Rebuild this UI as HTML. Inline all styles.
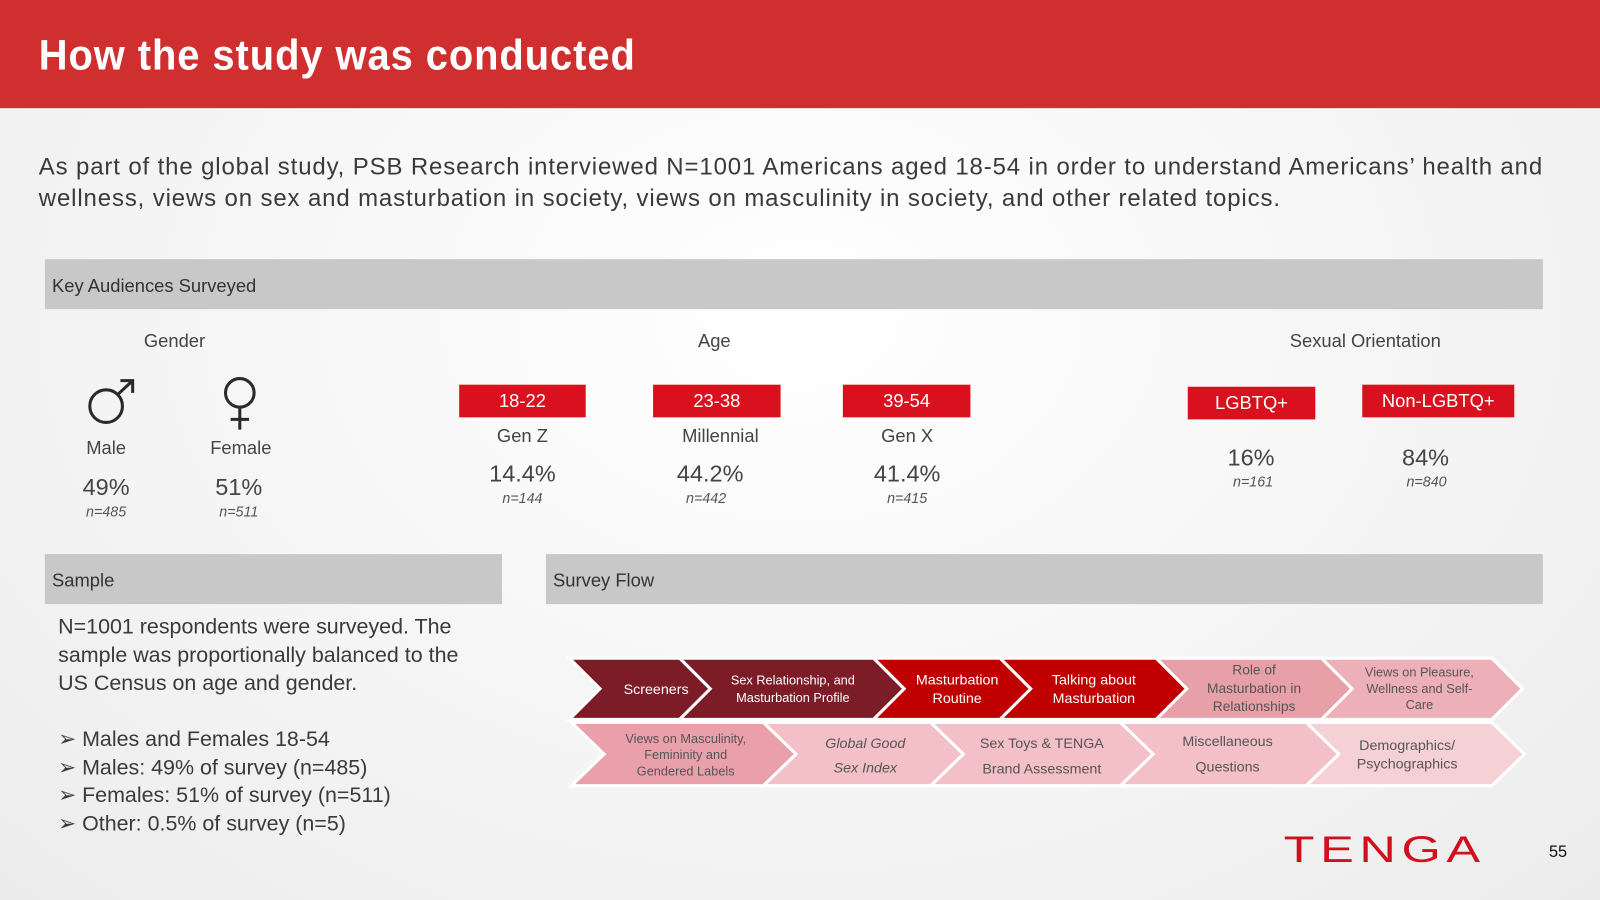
<!DOCTYPE html>
<html><head><meta charset="utf-8"><style>
*{margin:0;padding:0;box-sizing:border-box}
body{width:1600px;height:900px;overflow:hidden;background:#f0f0f0;font-family:"Liberation Sans",sans-serif}
#w{position:absolute;left:0;top:0;width:1568px;height:882px;transform:scale(1.020408);transform-origin:0 0;background:radial-gradient(ellipse at 50% 35%,#ffffff 0%,#f6f6f6 50%,#ececec 100%)}
.a{position:absolute;white-space:nowrap}
.hdr{left:0;top:0;width:1568px;height:106px;background:#cf302f}
.bar{background:#c8c8c8;height:49px;color:#333;font-size:18px;line-height:53px;padding-left:7px}
.c{text-align:center;transform:translateX(-50%)}
.lbl{font-size:18px;color:#444}
.pct{font-size:23px;color:#444}
.n{font-size:14px;color:#555;font-style:italic}
.tag{background:#d9101e;color:#fff;font-size:18px;text-align:center;line-height:32px;height:32px}
</style></head><body><div id="w">
<div class="a hdr"></div>
<div class="a" style="left:38px;top:30px;font-size:42px;color:#fff;letter-spacing:1px;font-weight:bold;transform:scaleX(0.93);transform-origin:0 0">How the study was conducted</div>
<div class="a" style="left:38px;top:148px;font-size:23.5px;color:#3a3a3a;line-height:31px;letter-spacing:0.85px">As part of the global study, PSB Research interviewed N=1001 Americans aged 18-54 in order to understand Americans’ health and<br>wellness, views on sex and masturbation in society, views on masculinity in society, and other related topics.</div>
<div class="a bar" style="left:44px;top:254px;width:1468px">Key Audiences Surveyed</div>
<div class="a lbl c" style="left:171px;top:324px">Gender</div>
<div class="a lbl c" style="left:700px;top:324px">Age</div>
<div class="a lbl c" style="left:1338px;top:324px">Sexual Orientation</div>
<svg class="a" style="left:82px;top:370px" width="52" height="48" viewBox="0 0 52 48"><circle cx="22" cy="28" r="16" fill="none" stroke="#2a2a2a" stroke-width="3"/><path d="M33 17 L48 3 M36 3 H48 V15" fill="none" stroke="#2a2a2a" stroke-width="3"/></svg>
<svg class="a" style="left:216px;top:368px" width="38" height="56" viewBox="0 0 38 56"><circle cx="19" cy="17" r="14" fill="none" stroke="#2a2a2a" stroke-width="3"/><path d="M19 31 V53 M10 43 H28" fill="none" stroke="#2a2a2a" stroke-width="3"/></svg>
<div class="a lbl c" style="left:104px;top:429px">Male</div>
<div class="a lbl c" style="left:236px;top:429px">Female</div>
<div class="a pct c" style="left:104px;top:464px">49%</div>
<div class="a pct c" style="left:234px;top:464px">51%</div>
<div class="a n c" style="left:104px;top:493px">n=485</div>
<div class="a n c" style="left:234px;top:493px">n=511</div>
<div class="a tag" style="left:450px;top:377px;width:124px">18-22</div>
<div class="a tag" style="left:640px;top:377px;width:125px">23-38</div>
<div class="a tag" style="left:826px;top:377px;width:125px">39-54</div>
<div class="a lbl c" style="left:512px;top:417px">Gen Z</div>
<div class="a lbl c" style="left:706px;top:417px">Millennial</div>
<div class="a lbl c" style="left:889px;top:417px">Gen X</div>
<div class="a pct c" style="left:512px;top:451px">14.4%</div>
<div class="a pct c" style="left:696px;top:451px">44.2%</div>
<div class="a pct c" style="left:889px;top:451px">41.4%</div>
<div class="a n c" style="left:512px;top:480px">n=144</div>
<div class="a n c" style="left:692px;top:480px">n=442</div>
<div class="a n c" style="left:889px;top:480px">n=415</div>
<div class="a tag" style="left:1164px;top:379px;width:125px">LGBTQ+</div>
<div class="a tag" style="left:1335px;top:377px;width:149px">Non-LGBTQ+</div>
<div class="a pct c" style="left:1226px;top:435px">16%</div>
<div class="a pct c" style="left:1397px;top:435px">84%</div>
<div class="a n c" style="left:1228px;top:464px">n=161</div>
<div class="a n c" style="left:1398px;top:464px">n=840</div>
<div class="a bar" style="left:44px;top:543px;width:448px">Sample</div>
<div class="a bar" style="left:535px;top:543px;width:977px">Survey Flow</div>
<div class="a" style="left:57px;top:601px;font-size:21px;color:#3a3a3a;line-height:27.5px">N=1001 respondents were surveyed. The<br>sample was proportionally balanced to the<br>US Census on age and gender.</div>
<div class="a" style="left:57px;top:711px;font-size:21px;color:#3a3a3a;line-height:27.5px">➢ Males and Females 18-54<br>➢ Males: 49% of survey (n=485)<br>➢ Females: 51% of survey (n=511)<br>➢ Other: 0.5% of survey (n=5)</div>
<svg class="a" style="left:0;top:0" width="1568" height="882">
<g stroke="#fff" stroke-width="3">
<polygon points="1295,645 1462,645 1492,675 1462,705 1295,705 1325,675" fill="#eeb0b8"/>
<polygon points="1133,645 1295,645 1325,675 1295,705 1133,705 1163,675" fill="#e8a0a8"/>
<polygon points="980,645 1133,645 1163,675 1133,705 980,705 1010,675" fill="#c00000"/>
<polygon points="856,645 980,645 1010,675 980,705 856,705 886,675" fill="#c00000"/>
<polygon points="666,645 856,645 886,675 856,705 666,705 696,675" fill="#7b1c26"/>
<polygon points="558,645 666,645 696,675 666,705 558,705 588,675" fill="#7b1c26"/>
<polygon points="1280,708 1462,708 1494,739 1462,770 1280,770 1312,739" fill="#f5d0d5"/>
<polygon points="1098,708 1280,708 1312,739 1280,770 1098,770 1130,739" fill="#f2c0c6"/>
<polygon points="912,708 1098,708 1130,739 1098,770 912,770 944,739" fill="#f2c0c6"/>
<polygon points="748,708 912,708 944,739 912,770 748,770 780,739" fill="#f2c0c6"/>
<polygon points="560,708 748,708 780,739 748,770 560,770 592,739" fill="#e9a0aa"/>
</g>
<g font-family="Liberation Sans, sans-serif" text-anchor="middle">
<text x="643" y="680" fill="#fff" font-size="14">Screeners</text>
<text x="777" y="671" fill="#fff" font-size="12.5">Sex Relationship, and</text>
<text x="777" y="688" fill="#fff" font-size="12.5">Masturbation Profile</text>
<text x="938" y="671" fill="#fff" font-size="14">Masturbation</text>
<text x="938" y="689" fill="#fff" font-size="14">Routine</text>
<text x="1072" y="671" fill="#fff" font-size="14">Talking about</text>
<text x="1072" y="689" fill="#fff" font-size="14">Masturbation</text>
<text x="1229" y="661" fill="#555" font-size="13.5">Role of</text>
<text x="1229" y="679" fill="#555" font-size="13.5">Masturbation in</text>
<text x="1229" y="697" fill="#555" font-size="13.5">Relationships</text>
<text x="1391" y="663" fill="#555" font-size="12.5">Views on Pleasure,</text>
<text x="1391" y="679" fill="#555" font-size="12.5">Wellness and Self-</text>
<text x="1391" y="695" fill="#555" font-size="12.5">Care</text>
<text x="672" y="728" fill="#555" font-size="12.5">Views on Masculinity,</text>
<text x="672" y="744" fill="#555" font-size="12.5">Femininity and</text>
<text x="672" y="760" fill="#555" font-size="12.5">Gendered Labels</text>
<text x="848" y="733" fill="#555" font-size="14" font-style="italic">Global Good</text>
<text x="848" y="757" fill="#555" font-size="14" font-style="italic">Sex Index</text>
<text x="1021" y="733" fill="#555" font-size="14">Sex Toys &amp; TENGA</text>
<text x="1021" y="758" fill="#555" font-size="14">Brand Assessment</text>
<text x="1203" y="731" fill="#555" font-size="14">Miscellaneous</text>
<text x="1203" y="756" fill="#555" font-size="14">Questions</text>
<text x="1379" y="735" fill="#555" font-size="14">Demographics/</text>
<text x="1379" y="753" fill="#555" font-size="14">Psychographics</text>
</g>
<text x="1258" y="845" fill="#d0101e" font-size="36" font-family="Liberation Sans, sans-serif" letter-spacing="4" textLength="198" lengthAdjust="spacingAndGlyphs">TENGA</text>
<text x="1518" y="840" fill="#111" font-size="16" font-family="Liberation Sans, sans-serif">55</text>
</svg>
</div></body></html>
